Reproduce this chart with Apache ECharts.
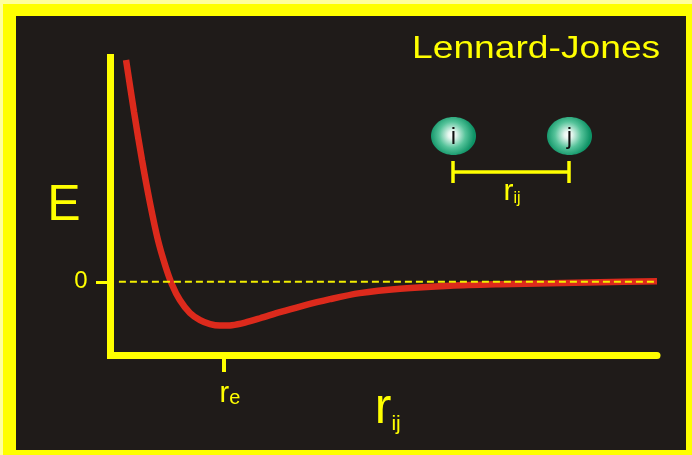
<!DOCTYPE html>
<html>
<head>
<meta charset="utf-8">
<script src="https://cdn.jsdelivr.net/npm/echarts@6/dist/echarts.min.js"></script>
<style>
  html, body { margin: 0; padding: 0; background: #1f1b19; }
  #main { width: 692px; height: 455px; }
</style>
</head>
<body>
<div id="main"></div>
<script>
// separation r (units of sigma) and energy E (units of epsilon)
const rVals = [0.887, 0.906, 0.925, 0.944, 0.963, 0.980, 0.996, 1.015, 1.039, 1.063, 1.087, 1.110,
  1.139, 1.170, 1.206, 1.253, 1.301, 1.372, 1.443, 1.539, 1.658, 1.777, 1.896, 2.014, 2.15];
const eVals = [5.12, 3.92, 2.81, 1.82, 0.96, 0.386, -0.053, -0.42, -0.72, -0.885, -0.977, -1.01,
  -1.0, -0.94, -0.84, -0.70, -0.57, -0.40, -0.26, -0.157, -0.088, -0.053, -0.03, -0.007, 0.016];
// dashed reference line at E = 0
const zeroR = [0.87, 2.15];
const zeroE = [0, 0];
// single ticks
const rTicks = [1.12];
const eTicks = [0];

const yellow = "#ffff00";
const font = "Liberation Sans, Arial, sans-serif";
const narrow = "Liberation Sans Narrow, Liberation Sans, Arial, sans-serif";

const chart = echarts.init(document.getElementById("main"));

const curve = rVals.map((r, i) => [r, eVals[i]]);
const zero = zeroR.map((r, i) => [r, zeroE[i]]);

const sphere = {
  type: "radial", x: 0.47, y: 0.47, r: 0.58,
  colorStops: [
    { offset: 0, color: "#ffffff" },
    { offset: 0.18, color: "#e6f6ef" },
    { offset: 0.6, color: "#55c39a" },
    { offset: 1, color: "#0e9366" },
  ],
};

const option = {
  backgroundColor: "#1f1b19",
  animation: false,
  grid: { left: 110.5, right: 35, top: 57.5, bottom: 99.5, outerBoundsMode: "none", containLabel: false },
  xAxis: {
    type: "value",
    min: 0.85,
    max: 2.15,
    name: "{r|r}{s|ij}",
    nameLocation: "middle",
    nameGap: 29,
    nameMoveOverlap: false,
    nameTextStyle: {
      padding: [0, 0, 0, 8],
      rich: {
        r: { fontSize: 50, lineHeight: 50, color: yellow, fontFamily: narrow, verticalAlign: "top" },
        s: { fontSize: 21, lineHeight: 21, color: yellow, fontFamily: narrow, verticalAlign: "bottom", padding: [20, 0, 0, 0] },
      },
    },
    axisLine: { show: true, onZero: false, lineStyle: { color: yellow, width: 7 } },
    axisTick: { show: true, customValues: rTicks, length: 16.5, lineStyle: { color: yellow, width: 4 } },
    axisLabel: {
      customValues: rTicks,
      margin: 24,
      padding: [0, 0, 0, 12],
      formatter: () => "{r|r}{s|e}",
      rich: {
        r: { fontSize: 29, lineHeight: 29, color: yellow, fontFamily: narrow, verticalAlign: "top" },
        s: { fontSize: 20, lineHeight: 20, color: yellow, fontFamily: font, verticalAlign: "bottom", padding: [12, 0, 0, 0] },
      },
    },
    splitLine: { show: false },
  },
  yAxis: {
    type: "value",
    min: -1.7,
    max: 5.18,
    name: "E",
    nameLocation: "middle",
    nameRotate: 0,
    nameGap: 30,
    nameMoveOverlap: false,
    nameTextStyle: { fontSize: 50, color: yellow, fontFamily: font },
    axisLine: { show: true, onZero: false, lineStyle: { color: yellow, width: 7, cap: "square" } },
    axisTick: { show: true, customValues: eTicks, length: 14.5, lineStyle: { color: yellow, width: 3 } },
    axisLabel: { customValues: eTicks, margin: 23, fontSize: 24, color: yellow, fontFamily: font },
    splitLine: { show: false },
  },
  series: [
    {
      type: "line",
      data: curve,
      smooth: 0.3,
      symbol: "none",
      z: 3,
      lineStyle: { color: "#dc2a1c", width: 6.5, cap: "butt" },
    },
    {
      type: "line",
      data: zero,
      symbol: "none",
      z: 4,
      lineStyle: { color: "#f2ee00", width: 2, type: [7, 4] },
    },
  ],
  graphic: [
    // frame
    { type: "rect", shape: { x: 0, y: 0, width: 692, height: 16 }, style: { fill: yellow } },
    { type: "rect", shape: { x: 0, y: 0, width: 16, height: 455 }, style: { fill: yellow } },
    { type: "rect", shape: { x: 686, y: 0, width: 6, height: 455 }, style: { fill: yellow } },
    { type: "rect", shape: { x: 0, y: 450, width: 692, height: 5 }, style: { fill: yellow } },
    { type: "rect", shape: { x: 0, y: 0, width: 692, height: 4 }, style: { fill: "#ffff9c" } },
    { type: "rect", shape: { x: 0, y: 0, width: 3, height: 455 }, style: { fill: "#ffff9c" } },
    // title
    {
      type: "text", x: 412, y: 49, scaleX: 1.2,
      style: { text: "Lennard-Jones", fill: yellow, font: "31px " + font, verticalAlign: "middle" },
    },
    // the two atoms
    { type: "ellipse", shape: { cx: 453.5, cy: 136, rx: 22.5, ry: 19 }, style: { fill: sphere } },
    { type: "ellipse", shape: { cx: 569.5, cy: 136, rx: 22.5, ry: 19 }, style: { fill: sphere } },
    { type: "text", x: 453.5, y: 137, style: { text: "i", fill: "#111", font: "24px " + font, align: "center", verticalAlign: "middle" } },
    { type: "text", x: 569.5, y: 137, style: { text: "j", fill: "#111", font: "24px " + font, align: "center", verticalAlign: "middle" } },
    // bracket r_ij
    { type: "line", shape: { x1: 453, y1: 172, x2: 569, y2: 172 }, style: { stroke: yellow, lineWidth: 3.5 } },
    { type: "line", shape: { x1: 453, y1: 161, x2: 453, y2: 183 }, style: { stroke: yellow, lineWidth: 3.5 } },
    { type: "line", shape: { x1: 569, y1: 161, x2: 569, y2: 183 }, style: { stroke: yellow, lineWidth: 3.5 } },
    {
      type: "text", x: 512, y: 177,
      style: {
        text: "{r|r}{s|ij}",
        align: "center",
        verticalAlign: "top",
        rich: {
          r: { fontSize: 30, lineHeight: 30, fill: yellow, fontFamily: narrow, verticalAlign: "top" },
          s: { fontSize: 16, lineHeight: 16, fill: yellow, fontFamily: narrow, verticalAlign: "bottom", padding: [16, 0, 0, 0] },
        },
      },
    },
  ],
};

chart.setOption(option);
</script>
</body>
</html>
